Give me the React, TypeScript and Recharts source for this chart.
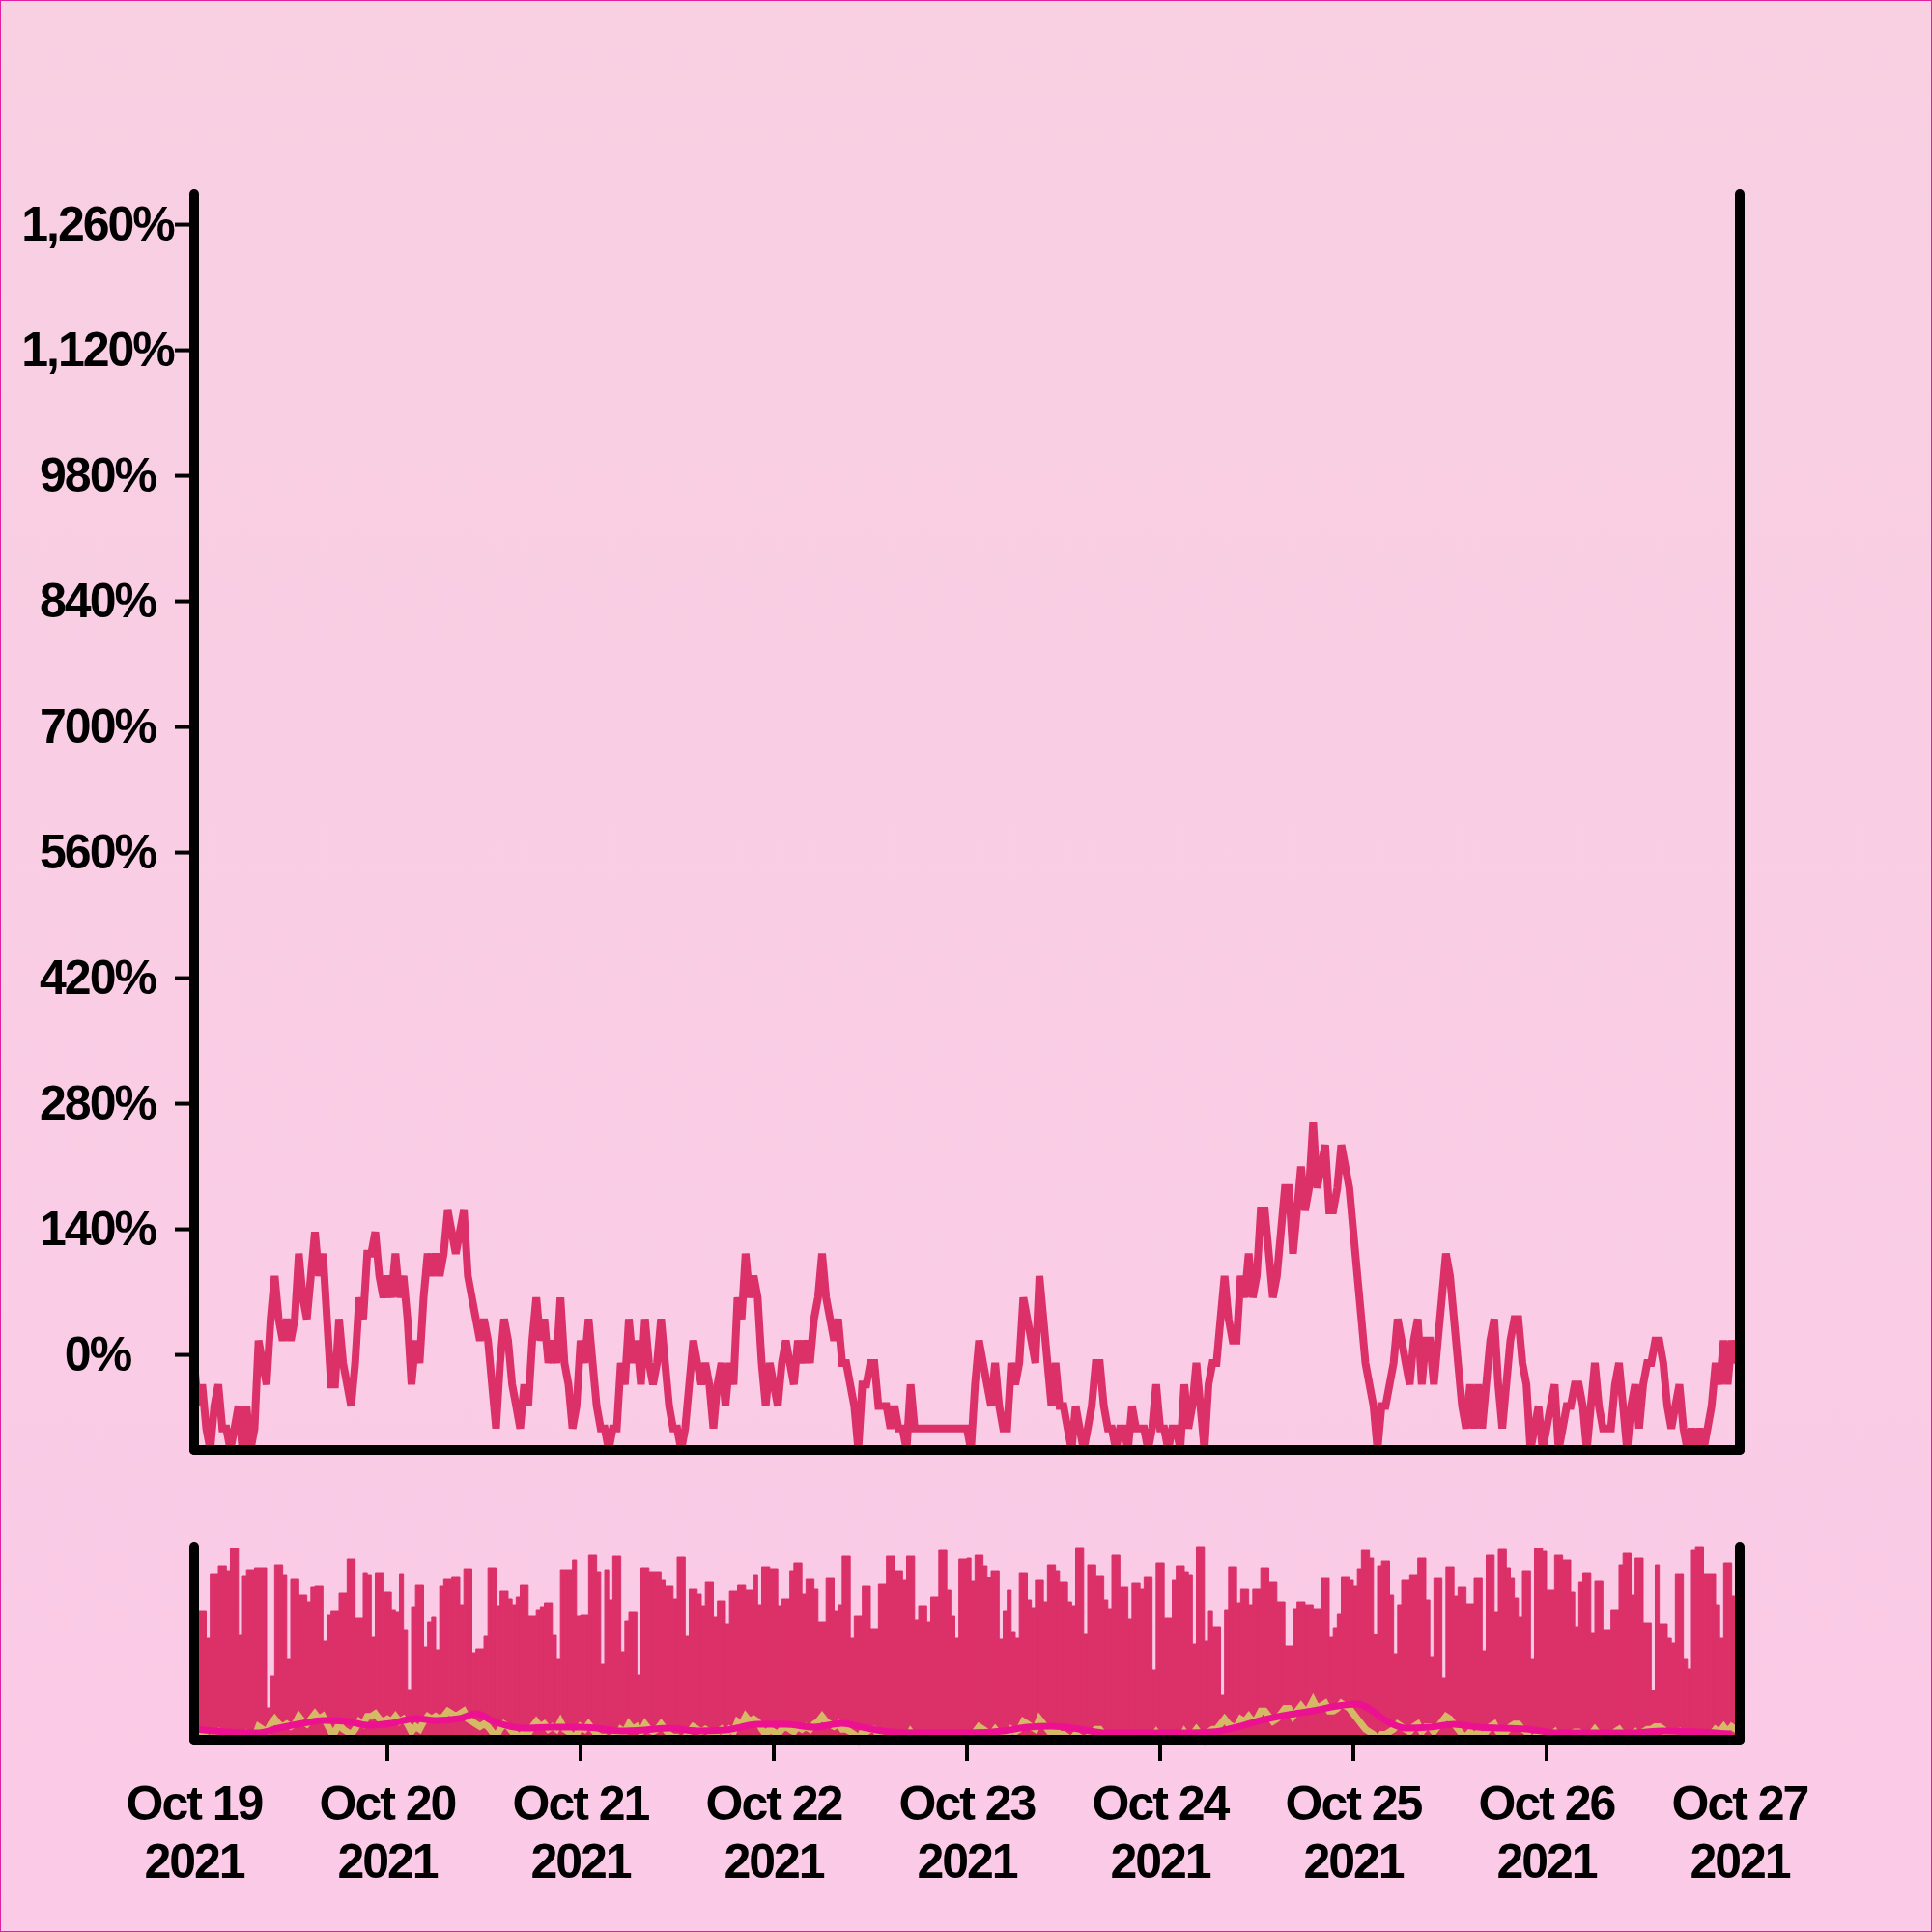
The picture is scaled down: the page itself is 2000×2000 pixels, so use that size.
import React from 'react';
import { LineChart, Line, XAxis, YAxis, BarChart, Bar, ComposedChart } from 'recharts';

// half-hour index 0..384 (Oct 19 00:00 -> Oct 27 00:00)
const linePct = [
  -9, -57, -33, -82, -106, -57, -33, -82, -82, -106,
  -82, -57, -106, -57, -106, -82, 16, -9, -33, 40,
  88, 40, 16, 40, 16, 40, 113, 64, 40, 88,
  137, 88, 113, 40, -33, -33, 40, -9, -33, -57,
  -9, 64, 40, 113, 113, 137, 88, 64, 88, 64,
  113, 64, 88, 40, -33, 16, -9, 64, 113, 88,
  113, 88, 113, 161, 137, 113, 137, 161, 88, 64,
  40, 16, 40, 16, -33, -82, -9, 40, 16, -33,
  -57, -82, -33, -57, 16, 64, 16, 40, -9, 16,
  -9, 64, -9, -33, -82, -57, 16, -9, 40, -9,
  -57, -82, -82, -106, -82, -82, -9, -33, 40, -9,
  16, -33, 40, -9, -33, -9, 40, -9, -57, -82,
  -82, -106, -82, -33, 16, -9, -33, -9, -33, -82,
  -33, -9, -57, -9, -33, 64, 40, 113, 64, 88,
  64, -9, -57, -9, -33, -57, -9, 16, -9, -33,
  16, -9, 16, -9, 40, 64, 113, 64, 40, 16,
  40, -9, -9, -33, -57, -106, -33, -33, -9, -9,
  -57, -57, -57, -82, -57, -82, -82, -106, -33, -82,
  -82, -82, -82, -82, -82, -82, -82, -82, -82, -82,
  -82, -82, -82, -106, -33, 16, -9, -33, -57, -9,
  -57, -82, -82, -9, -33, -9, 64, 40, 16, -9,
  88, 40, -9, -57, -9, -57, -57, -82, -106, -57,
  -82, -106, -82, -57, -9, -9, -57, -82, -82, -106,
  -82, -82, -106, -57, -82, -82, -82, -106, -82, -33,
  -82, -82, -106, -82, -82, -106, -33, -82, -57, -9,
  -57, -106, -33, -9, -9, 40, 88, 40, 16, 16,
  88, 64, 113, 64, 88, 161, 161, 113, 64, 88,
  137, 186, 186, 113, 161, 210, 161, 186, 259, 186,
  210, 234, 161, 161, 186, 234, 210, 186, 137, 88,
  40, -9, -33, -57, -106, -57, -57, -33, -9, 40,
  16, -9, -33, 16, 40, -33, 16, 16, -33, 16,
  64, 113, 88, 40, -9, -57, -82, -33, -82, -33,
  -82, -33, 16, 40, -33, -82, -33, 16, 40, 40,
  -9, -33, -106, -82, -57, -106, -82, -57, -33, -106,
  -82, -57, -57, -33, -33, -57, -106, -57, -9, -57,
  -82, -82, -82, -33, -9, -57, -106, -57, -33, -82,
  -33, -9, -9, 16, 16, -9, -57, -82, -57, -33,
  -82, -106, -82, -106, -82, -106, -82, -57, -9, -33,
  16, -33, 16, -9, 16,
];

// one bar per half hour, heights on a 0..200 scale
const barValues = [
  133, 133, 133, 105, 172, 172, 180, 180, 175, 198,
  198, 108, 170, 176, 176, 178, 178, 178, 33, 66,
  181, 181, 171, 84, 166, 166, 150, 150, 143, 158,
  159, 159, 102, 129, 133, 133, 152, 152, 187, 187,
  126, 126, 173, 171, 106, 173, 173, 153, 153, 134,
  132, 172, 114, 52, 137, 160, 160, 96, 122, 127,
  93, 159, 166, 166, 169, 169, 140, 177, 177, 90,
  94, 94, 107, 178, 178, 138, 154, 154, 146, 140,
  148, 160, 160, 128, 128, 134, 137, 142, 142, 108,
  84, 176, 176, 176, 186, 128,
  129, 129, 191, 191, 174, 78, 176, 145, 190, 190,
  91, 123, 132, 132, 67, 178, 178, 174, 174, 174,
  165, 159, 159, 146, 189, 189, 107, 156, 156, 151,
  138, 163, 163, 127, 144, 144, 120, 154, 154, 160,
  160, 155, 155, 171, 140, 179, 179, 177, 177, 138,
  146, 146, 175, 183, 183, 151, 166, 166, 156, 122,
  122, 167, 167, 133, 140, 190, 190, 105, 128, 128,
  159, 159, 115, 115, 161, 161, 190, 190, 175, 175,
  165, 190, 190, 124, 138, 138, 122, 148, 148, 196,
  196, 155, 128, 105, 187, 187,
  188, 164, 191, 191, 180, 168, 175, 175, 104, 133,
  155, 112, 105, 173, 173, 145, 136, 165, 165, 143,
  181, 181, 175, 163, 163, 143, 138, 199, 199, 110,
  181, 181, 170, 170, 145, 135, 191, 191, 158, 158,
  125, 162, 162, 156, 169, 169, 72, 183, 183, 126,
  126, 165, 180, 180, 174, 171, 99, 200, 200, 102,
  133, 117, 117, 46, 134, 179, 179, 142, 156, 156,
  140, 156, 156, 178, 178, 163, 163, 143, 143, 97,
  97, 135, 143, 143, 140, 140, 135, 135, 167, 167,
  106, 116, 130, 169, 169, 165,
  159, 177, 196, 196, 188, 109, 180, 185, 185, 150,
  89, 140, 165, 165, 171, 171, 188, 188, 145, 86,
  167, 167, 64, 179, 179, 149, 158, 158, 141, 141,
  167, 167, 92, 191, 191, 132, 197, 197, 178, 167,
  147, 127, 175, 175, 84, 198, 198, 195, 155, 155,
  191, 191, 186, 186, 153, 117, 163, 173, 173, 111,
  164, 164, 114, 114, 134, 134, 181, 193, 193, 150,
  188, 188, 121, 121, 51, 181, 120, 120, 105, 100,
  172, 172, 84, 73, 196, 200, 200, 172, 172, 172,
  140, 105, 183, 183, 149, 149,
];

// smoothed overview line (half-hour index, height on 0..200 scale)
const avgTimes = [0, 8, 16, 21, 27, 32, 38, 43, 49, 55, 60, 66, 70, 75, 82, 89, 96, 100, 106, 112, 118, 125, 132, 140, 147, 154, 161, 166, 173, 181, 192, 201, 207, 213, 220, 226, 235, 246, 253, 259, 265, 272, 278, 284, 289, 292, 296, 301, 307, 313, 319, 325, 331, 339, 345, 357, 365, 373, 382];
const avgValues = [11, 8, 7, 12, 17, 20, 19, 15, 17, 22, 20, 22, 27, 18, 12, 13, 13, 12, 9, 10, 12, 9, 10, 16, 16, 13, 17, 13, 8, 7, 7, 9, 13, 14, 11, 7, 7, 7, 8, 13, 20, 26, 30, 35, 37, 32, 20, 12, 13, 16, 13, 12, 11, 7, 7, 7, 9, 8, 6];

const yTicks = [0, 140, 280, 420, 560, 700, 840, 980, 1120, 1260];
const dayTicks = [0, 48, 96, 144, 192, 240, 288, 336, 384];
const dayLabels = ['Oct 19', 'Oct 20', 'Oct 21', 'Oct 22', 'Oct 23', 'Oct 24', 'Oct 25', 'Oct 26', 'Oct 27'];
const yearLabel = '2021';

const CRIMSON = '#DC3069';
const KHAKI = '#D5B966';
const MAGENTA = '#EC1190';

const mainData = linePct.map((pct, i) => ({ t: i, pct }));
const barData = barValues.map((v, i) => ({ t: i + 0.5, v }));
const overlayData = linePct.map((pct, i) => {
  const k = avgTimes.indexOf(i);
  return { t: i, pct, avg: k >= 0 ? avgValues[k] : null };
});

const axisLine = { stroke: '#000', strokeWidth: 10, strokeLinecap: 'round' as const };
const labelStyle = {
  fontFamily: '"Liberation Sans", Arial, sans-serif',
  fontWeight: 700,
  fontSize: 50,
  letterSpacing: -2,
  fill: '#000',
};

const fmtPct = (v: number) => v.toLocaleString('en-US') + '%';

const YTick = (props: any) => (
  <text x={100} y={props.y} dy={16} textAnchor="middle" style={labelStyle}>
    {fmtPct(props.payload.value)}
  </text>
);

const DayTick = (props: any) => {
  const { x, payload } = props;
  const idx = dayTicks.indexOf(payload.value);
  const inner = idx > 0 && idx < dayTicks.length - 1;
  return (
    <g>
      {inner && <line x1={x} x2={x} y1={1800} y2={1822} stroke="#000" strokeWidth={4} />}
      <text x={x} y={1883} textAnchor="middle" style={labelStyle}>{dayLabels[idx]}</text>
      <text x={x} y={1943} textAnchor="middle" style={labelStyle}>{yearLabel}</text>
    </g>
  );
};

const layer: React.CSSProperties = { position: 'absolute', left: 0, top: 0 };

export default function App() {
  return (
    <div
      style={{
        position: 'absolute',
        left: 0,
        top: 0,
        width: 2000,
        height: 2000,
        boxSizing: 'border-box',
        border: '1px solid #E0209C',
        background: 'linear-gradient(#F8D0E2, #FBCAE7)',
        overflow: 'hidden',
      }}
    >
      <div style={layer}>
        <LineChart width={2000} height={2000} data={mainData} margin={{ top: 200, right: 100, bottom: 400, left: 100 }}>
          <Line dataKey="pct" stroke={CRIMSON} strokeWidth={8} dot={false} type="linear" isAnimationActive={false} />
          <XAxis dataKey="t" type="number" domain={[0, 384]} height={100} tick={false} tickLine={false} axisLine={axisLine} />
          <YAxis
            domain={[-106, 1294]}
            ticks={yTicks}
            width={100}
            interval={0}
            tickSize={20}
            tickLine={{ stroke: '#000', strokeWidth: 4 }}
            axisLine={axisLine}
            tick={(p: any) => <YTick {...p} />}
          />
          <YAxis yAxisId="r" orientation="right" domain={[-106, 1294]} width={100} tick={false} tickLine={false} axisLine={axisLine} />
        </LineChart>
      </div>
      <div style={layer}>
        <BarChart width={2000} height={2000} data={barData} margin={{ top: 1600, right: 200, bottom: 200, left: 200 }} barCategoryGap={0}>
          <XAxis dataKey="t" type="number" domain={[0, 384]} hide />
          <YAxis domain={[0, 200]} hide />
          <Bar dataKey="v" fill={CRIMSON} stroke={CRIMSON} strokeWidth={1} barSize={4.16} isAnimationActive={false} />
        </BarChart>
      </div>
      <div style={layer}>
        <ComposedChart width={2000} height={2000} data={overlayData} margin={{ top: 1600, right: 100, bottom: 100, left: 100 }}>
          <Line yAxisId="k" dataKey="pct" stroke={KHAKI} strokeWidth={7} dot={false} type="linear" isAnimationActive={false} />
          <Line yAxisId="px" dataKey="avg" stroke={MAGENTA} strokeWidth={7} dot={false} type="monotone" connectNulls isAnimationActive={false} />
          <XAxis
            dataKey="t"
            type="number"
            domain={[0, 384]}
            ticks={dayTicks}
            interval={0}
            height={100}
            tickLine={false}
            axisLine={axisLine}
            tick={(p: any) => <DayTick {...p} />}
          />
          <YAxis yAxisId="px" domain={[0, 200]} width={100} tick={false} tickLine={false} axisLine={axisLine} />
          <YAxis yAxisId="r2" orientation="right" domain={[0, 200]} width={100} tick={false} tickLine={false} axisLine={axisLine} />
          <YAxis yAxisId="k" domain={[-106, 1694]} width={0} hide />
        </ComposedChart>
      </div>
    </div>
  );
}
